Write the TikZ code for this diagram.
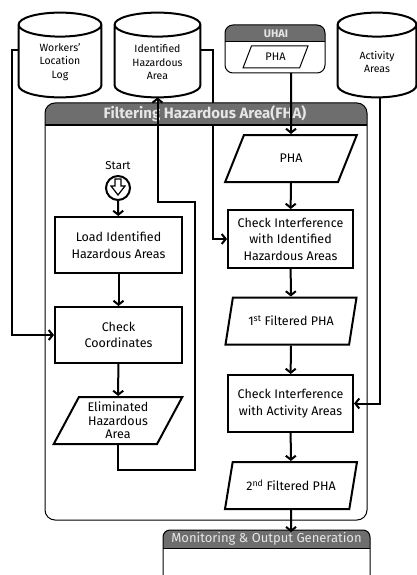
\documentclass[tikz,border=0pt]{standalone}
\usepackage{fontspec}
\setmainfont{Fira Sans}
\usetikzlibrary{shapes.geometric,arrows.meta,calc}
\definecolor{headgray}{HTML}{6E6E6E}
\definecolor{headtext}{HTML}{E6E6E6}
\pgfdeclarelayer{background}
\pgfsetlayers{background,main}

% outline of a data store round node #1
\newcommand{\drumshape}[1]{%
  \draw[line width=2pt] let \p1=(#1.north west), \p2=(#1.south east), \n1={(\x2-\x1)/2} in
    (\x1+\n1,\y1-12pt) ellipse [x radius=\n1, y radius=12pt]
    (\x1,\y1-12pt) -- (\x1,\y2+12pt) arc [start angle=180, end angle=360, x radius=\n1, y radius=12pt] -- (\x2,\y1-12pt);}

\begin{document}
\begin{tikzpicture}[x=1pt,y=-1pt,
  thick,
  box/.style={draw,line width=2pt,minimum width=125,minimum height=57,inner sep=1pt,align=center,font=\fontsize{12.5}{16.5}\selectfont},
  data/.style={trapezium,trapezium left angle=62,trapezium right angle=118,trapezium stretches=true,draw,line width=2pt,minimum width=132,minimum height=47,inner sep=0pt,align=center,font=\fontsize{12.5}{13.5}\selectfont},
  store/.style={minimum width=82,minimum height=84,inner sep=0pt},
  storetext/.style={align=center,inner sep=0pt,font=\fontsize{10.5}{13.5}\selectfont},
  flow/.style={line width=2pt,-{Straight Barb[length=4pt,width=10pt,line width=2pt]}},
  title/.style={text=headtext,inner sep=0pt}]

  \useasboundingbox (0,0) rectangle (417,575);

  % FHA frame
  \fill[headgray] (45,125) [rounded corners=10] -- (45,103) -- (367,103) [sharp corners] -- (367,125) -- cycle;
  \draw[line width=1pt,rounded corners=10] (45,103) rectangle (367,520);
  \draw[line width=1pt] (45,125) -- (367,125);
  \node[title,font=\fontsize{15}{16}\selectfont\bfseries] (fha) at (205,114) {Filtering Hazardous Area(FHA)};

  % UHAI frame
  \fill[headgray] (225,42) [rounded corners=8] -- (225,25) -- (325,25) [sharp corners] -- (325,42) -- cycle;
  \draw[line width=1pt,rounded corners=8] (225,25) rectangle (325,73);
  \draw[line width=1pt] (225,42) -- (325,42);
  \node[title,font=\fontsize{11}{12}\selectfont\bfseries] (uhai) at (276,33.5) {UHAI};
  \coordinate (uhaiout) at (291,73);

  % monitoring frame
  \fill[headgray] (163,548) [rounded corners=7] -- (163,530) -- (370,530) [sharp corners] -- (370,548) -- cycle;
  \draw[line width=1pt,rounded corners=7] (163,576) -- (163,530) -- (370,530) -- (370,576);
  \draw[line width=1pt] (163,548) -- (370,548);
  \node[title,font=\fontsize{13}{14}\selectfont] (mon) at (266.5,539) {Monitoring \& Output Generation};

  % stores
  \node[store] (log) at (60,55) {};
  \node[store,minimum width=85] (iha) at (157.5,55) {};
  \node[store,minimum width=78] (act) at (377,55) {};
  \drumshape{log}
  \drumshape{iha}
  \drumshape{act}
  \node[storetext] (logtext) at (60,62) {Workers'\\Location\\Log};
  \node[storetext] (ihatext) at (157.5,62) {Identified\\Hazardous\\Area};
  \node[storetext] (acttext) at (377,62) {Activity\\Areas};

  % left column
  \node[inner sep=0pt,font=\fontsize{11.5}{12}\selectfont] (startlbl) at (118,166) {Start};
  \node[circle,draw,line width=2pt,minimum size=24,inner sep=0pt] (start) at (118,188) {};
  \draw[line width=1.2pt] (start) ++(-3,-9) -- ++(6,0) -- ++(0,7) -- ++(4,0) -- ++(-7,9) -- ++(-7,-9) -- ++(4,0) -- cycle;
  \node[box,minimum width=127,minimum height=56] (load) at (118.5,245) {Load Identified\\Hazardous Areas};
  \node[box,minimum width=127,minimum height=56] (cc) at (118.5,335) {Check\\Coordinates};
  \node[data,minimum width=130] (elim) at (118,420.5) {Eliminated\\Hazardous\\Area};

  % right column
  \node[data,minimum width=65,minimum height=22,line width=1pt,trapezium left angle=65,trapezium right angle=115,font=\fontsize{11}{12}\selectfont] (pha0) at (275.5,57) {PHA};
  \node[data] (pha) at (291,158.5) {PHA};
  \node[box,minimum height=58] (ci1) at (290.5,239) {Check Interference\\with Identified\\Hazardous Areas};
  \node[data] (f1) at (291,321) {1\textsuperscript{st} Filtered PHA};
  \node[box] (ci2) at (290.5,403.5) {Check Interference\\with Activity Areas};
  \node[data] (f2) at (291,485.5) {2\textsuperscript{nd} Filtered PHA};

  \path[flow]
   (start) edge (load)
   (load) edge (cc)
   (cc) edge (elim)
   (uhaiout) edge (pha)
   (pha) edge (ci1)
   (ci1) edge (f1)
   (f1) edge (ci2)
   (ci2) edge (f2)
   (f2) edge (f2 |- mon.north);

  \draw[flow] (elim.south) |- (195,470) |- (iha.south |- 0,202) -- (iha.south);
  \draw[flow] ([yshift=5pt]log.west) -- ++(-7,0) |- (cc.west);
  \draw[flow] ([xshift=3pt]act.south) |- (ci2.east);
  % runs under the FHA title bar
  \begin{pgfonlayer}{background}
    \draw[flow] ([yshift=5pt]iha.east) -- ++(13,0) |- (ci1.west);
  \end{pgfonlayer}
\end{tikzpicture}
\end{document}
